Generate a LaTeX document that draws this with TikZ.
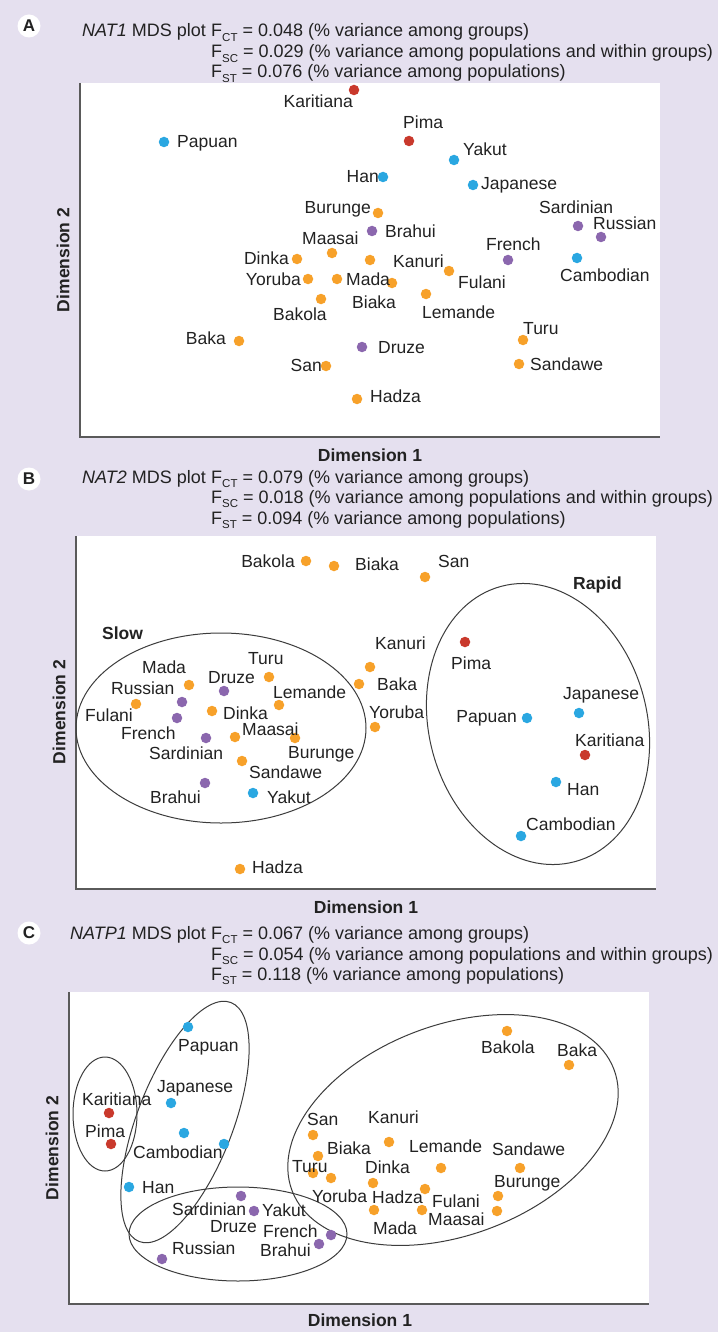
\documentclass[tikz,border=0pt]{standalone}
\usepackage{fontspec}
\setmainfont{Liberation Sans}
\definecolor{bg}{RGB}{229,224,239}
\definecolor{orA}{RGB}{247,161,42}
\definecolor{blA}{RGB}{42,167,225}
\definecolor{rdA}{RGB}{201,57,44}
\definecolor{puA}{RGB}{139,103,174}
\definecolor{txt}{RGB}{34,34,34}
\definecolor{axisc}{RGB}{90,90,90}
\definecolor{ell}{RGB}{60,60,60}
\newcommand{\Fs}[1]{F\raisebox{-4.5pt}{\fontsize{11.5}{11.5}\selectfont #1}}
\tikzset{
 dot/.style={circle,inner sep=0pt,minimum size=10.5pt,fill=#1},
 lab/.style={inner sep=0pt,font=\fontsize{17.5}{20}\selectfont,text=txt},
 blab/.style={inner sep=0pt,font=\bfseries\fontsize{17.5}{20}\selectfont,text=txt},
 hdr/.style={inner sep=0pt,font=\fontsize{18}{20}\selectfont,text=txt,anchor=base west},
 letter/.style={circle,fill=white,inner sep=0pt,minimum size=23pt,font=\bfseries\fontsize{17}{17}\selectfont,text=txt},
 grp/.style={draw=ell,line width=1pt},
 axisline/.style={draw=axisc,line width=1.3pt},
 W/.style={lab,anchor=base west},
 E/.style={lab,anchor=base east},
}
\begin{document}
\begin{tikzpicture}[x=1pt,y=-1pt]
\useasboundingbox (0,0) rectangle (718,1332);
\fill[bg] (0,0) rectangle (718,1332);

% ================= Panel A =================
\node[letter] (pA) at (29,26) {A};
\node[lab,font=\fontsize{18}{20}\selectfont,anchor=base east] (hA0) at (206,37) {\textit{NAT1} MDS plot};
\node[hdr] (hA1) at (211,37) {\Fs{CT} = 0.048 (\% variance among groups)};
\node[hdr] (hA2) at (211,58) {\Fs{SC} = 0.029 (\% variance among populations and within groups)};
\node[hdr] (hA3) at (211,78) {\Fs{ST} = 0.076 (\% variance among populations)};
\fill[white] (80,83) rectangle (660,437);
\draw[axisline] (80,83) -- (80,437) -- (660,437);
\node[blab,rotate=90] (dA2) at (63,260) {Dimension 2};
\node[blab] (dA1) at (370,455) {Dimension 1};

\node[dot=rdA] (a-kar) at (354,90) {};
\node[dot=rdA] (a-pim) at (409,141) {};
\node[dot=blA] (a-pap) at (164,142) {};
\node[dot=blA] (a-yak) at (454,160) {};
\node[dot=blA] (a-han) at (383,177) {};
\node[dot=blA] (a-jap) at (473,185) {};
\node[dot=blA] (a-cam) at (577,258) {};
\node[dot=puA] (a-bra) at (372,231) {};
\node[dot=puA] (a-sar) at (578,226) {};
\node[dot=puA] (a-rus) at (601,237) {};
\node[dot=puA] (a-fre) at (508,260) {};
\node[dot=puA] (a-dru) at (362,347) {};
\node[dot=orA] (a-bur) at (378,213) {};
\node[dot=orA] (a-maa) at (332,253) {};
\node[dot=orA] (a-din) at (297,259) {};
\node[dot=orA] (a-o1) at (370,260) {};
\node[dot=orA] (a-yor) at (308,279) {};
\node[dot=orA] (a-mad) at (337,279) {};
\node[dot=orA] (a-bia) at (392,283) {};
\node[dot=orA] (a-bak) at (321,299) {};
\node[dot=orA] (a-kan) at (449,271) {};
\node[dot=orA] (a-lem) at (426,294) {};
\node[dot=orA] (a-bka) at (239,341) {};
\node[dot=orA] (a-san) at (326,366) {};
\node[dot=orA] (a-had) at (357,399) {};
\node[dot=orA] (a-tur) at (523,340) {};
\node[dot=orA] (a-sdw) at (519,364) {};

\node[E] (a-kar-l) at (353,108) {Karitiana};
\node[W] (a-pim-l) at (403,129) {Pima};
\node[W] (a-pap-l) at (177,148) {Papuan};
\node[W] (a-yak-l) at (463,156) {Yakut};
\node[E] (a-han-l) at (379,183) {Han};
\node[W] (a-jap-l) at (481,190) {Japanese};
\node[E] (a-bur-l) at (371,214) {Burunge};
\node[W] (a-bra-l) at (385,238) {Brahui};
\node[W] (a-sar-l) at (539,214) {Sardinian};
\node[W] (a-rus-l) at (593,230) {Russian};
\node[W] (a-maa-l) at (302,245) {Maasai};
\node[E] (a-din-l) at (289,265) {Dinka};
\node[E] (a-yor-l) at (301,285) {Yoruba};
\node[W] (a-mad-l) at (346,285) {Mada};
\node[W] (a-kan-l) at (393,268) {Kanuri};
\node[W] (a-fre-l) at (486,251) {French};
\node[W] (a-ful-l) at (458,288) {Fulani};
\node[W] (a-cam-l) at (560,281) {Cambodian};
\node[W] (a-bia-l) at (352,308) {Biaka};
\node[W] (a-bak-l) at (273,320) {Bakola};
\node[W] (a-lem-l) at (422,318) {Lemande};
\node[E] (a-bka-l) at (226,344) {Baka};
\node[W] (a-dru-l) at (378,353) {Druze};
\node[W] (a-tur-l) at (523,334) {Turu};
\node[E] (a-san-l) at (322,371) {San};
\node[W] (a-sdw-l) at (530,370) {Sandawe};
\node[W] (a-had-l) at (370,402) {Hadza};

% ================= Panel B =================
\node[letter] (pB) at (29,479) {B};
\node[lab,font=\fontsize{18}{20}\selectfont,anchor=base east] (hB0) at (206,483) {\textit{NAT2} MDS plot};
\node[hdr] (hB1) at (211,483) {\Fs{CT} = 0.079 (\% variance among groups)};
\node[hdr] (hB2) at (211,503) {\Fs{SC} = 0.018 (\% variance among populations and within groups)};
\node[hdr] (hB3) at (211,524) {\Fs{ST} = 0.094 (\% variance among populations)};
\fill[white] (76,536) rectangle (656,889);
\draw[axisline] (76,536) -- (76,889) -- (656,889);
\node[blab,rotate=90] (dB2) at (59,712) {Dimension 2};
\node[blab] (dB1) at (366,907) {Dimension 1};

\draw[grp] (221,728) ellipse [x radius=145pt, y radius=95pt];
\draw[grp,rotate around={15:(538,724)}] (538,724) ellipse [x radius=109pt, y radius=142.5pt];
\node[blab,anchor=base west] (b-slow) at (102,639) {Slow};
\node[blab,anchor=base west] (b-rapid) at (573,589) {Rapid};

\node[dot=orA] (b-bak) at (306,561) {};
\node[dot=orA] (b-bia) at (334,566) {};
\node[dot=orA] (b-san) at (425,577) {};
\node[dot=orA] (b-kan) at (370,667) {};
\node[dot=orA] (b-bka) at (359,684) {};
\node[dot=orA] (b-yor) at (375,727) {};
\node[dot=orA] (b-mad) at (189,685) {};
\node[dot=orA] (b-tur) at (269,677) {};
\node[dot=orA] (b-ful) at (136,704) {};
\node[dot=orA] (b-lem) at (279,705) {};
\node[dot=orA] (b-din) at (212,711) {};
\node[dot=orA] (b-maa) at (235,737) {};
\node[dot=orA] (b-bur) at (295,738) {};
\node[dot=orA] (b-sdw) at (242,761) {};
\node[dot=orA] (b-had) at (240,869) {};
\node[dot=puA] (b-dru) at (224,691) {};
\node[dot=puA] (b-rus) at (182,702) {};
\node[dot=puA] (b-fre) at (177,718) {};
\node[dot=puA] (b-sar) at (206,738) {};
\node[dot=puA] (b-bra) at (205,783) {};
\node[dot=blA] (b-yak) at (253,793) {};
\node[dot=blA] (b-jap) at (579,713) {};
\node[dot=blA] (b-pap) at (527,718) {};
\node[dot=blA] (b-han) at (556,782) {};
\node[dot=blA] (b-cam) at (521,836) {};
\node[dot=rdA] (b-pim) at (465,642) {};
\node[dot=rdA] (b-kar) at (585,755) {};

\node[E] (b-bak-l) at (295,567) {Bakola};
\node[W] (b-bia-l) at (355,570) {Biaka};
\node[W] (b-san-l) at (438,567) {San};
\node[W] (b-kan-l) at (375,649) {Kanuri};
\node[W] (b-bka-l) at (377,690) {Baka};
\node[W] (b-yor-l) at (369,718) {Yoruba};
\node[W] (b-pim-l) at (451,669) {Pima};
\node[W] (b-jap-l) at (563,699) {Japanese};
\node[E] (b-pap-l) at (517,722) {Papuan};
\node[W] (b-kar-l) at (575,746) {Karitiana};
\node[W] (b-han-l) at (567,795) {Han};
\node[W] (b-cam-l) at (526,830) {Cambodian};
\node[W] (b-mad-l) at (142,673) {Mada};
\node[W] (b-dru-l) at (208,683) {Druze};
\node[W] (b-tur-l) at (248,664) {Turu};
\node[W] (b-rus-l) at (111,694) {Russian};
\node[W] (b-lem-l) at (273,698) {Lemande};
\node[W] (b-ful-l) at (85,721) {Fulani};
\node[W] (b-din-l) at (223,719) {Dinka};
\node[W] (b-fre-l) at (121,739) {French};
\node[W] (b-maa-l) at (242,735) {Maasai};
\node[W] (b-bur-l) at (288,758) {Burunge};
\node[W] (b-sar-l) at (149,759) {Sardinian};
\node[W] (b-sdw-l) at (249,778) {Sandawe};
\node[W] (b-bra-l) at (150,803) {Brahui};
\node[W] (b-yak-l) at (267,803) {Yakut};
\node[W] (b-had-l) at (252,873) {Hadza};

% ================= Panel C =================
\node[letter] (pC) at (29,933) {C};
\node[lab,font=\fontsize{18}{20}\selectfont,anchor=base east] (hC0) at (206,939) {\textit{NATP1} MDS plot};
\node[hdr] (hC1) at (211,939) {\Fs{CT} = 0.067 (\% variance among groups)};
\node[hdr] (hC2) at (211,960) {\Fs{SC} = 0.054 (\% variance among populations and within groups)};
\node[hdr] (hC3) at (211,980) {\Fs{ST} = 0.118 (\% variance among populations)};
\fill[white] (69,992) rectangle (649,1304);
\draw[axisline] (69,992) -- (69,1304) -- (649,1304);
\node[blab,rotate=90] (dC2) at (52,1148) {Dimension 2};
\node[blab] (dC1) at (360,1320) {Dimension 1};

\draw[grp] (105,1114) ellipse [x radius=32pt, y radius=57pt];
\draw[grp,rotate around={-21:(185,1122)}] (185,1122) ellipse [x radius=48pt, y radius=128pt];
\draw[grp] (238,1234) ellipse [x radius=109pt, y radius=47pt];
\draw[grp,rotate around={20.6:(453,1130)}] (453,1130) ellipse [x radius=172pt, y radius=105pt];

\node[dot=rdA] (c-kar) at (109,1113) {};
\node[dot=rdA] (c-pim) at (111,1144) {};
\node[dot=blA] (c-pap) at (188,1027) {};
\node[dot=blA] (c-jap) at (171,1103) {};
\node[dot=blA] (c-cam1) at (184,1133) {};
\node[dot=blA] (c-cam2) at (224,1144) {};
\node[dot=blA] (c-han) at (129,1187) {};
\node[dot=puA] (c-sar) at (241,1196) {};
\node[dot=puA] (c-yak) at (254,1211) {};
\node[dot=puA] (c-fre) at (331,1235) {};
\node[dot=puA] (c-bra) at (319,1244) {};
\node[dot=puA] (c-rus) at (162,1259) {};
\node[dot=orA] (c-bak) at (507,1031) {};
\node[dot=orA] (c-bka) at (569,1065) {};
\node[dot=orA] (c-san) at (313,1135) {};
\node[dot=orA] (c-kan) at (389,1142) {};
\node[dot=orA] (c-bia) at (318,1156) {};
\node[dot=orA] (c-lem) at (441,1168) {};
\node[dot=orA] (c-sdw) at (520,1168) {};
\node[dot=orA] (c-tur) at (313,1173) {};
\node[dot=orA] (c-o9) at (331,1178) {};
\node[dot=orA] (c-din) at (373,1183) {};
\node[dot=orA] (c-o11) at (425,1189) {};
\node[dot=orA] (c-bur) at (498,1196) {};
\node[dot=orA] (c-o13) at (374,1210) {};
\node[dot=orA] (c-o14) at (422,1210) {};
\node[dot=orA] (c-o15) at (497,1211) {};

\node[W] (c-pap-l) at (178,1051) {Papuan};
\node[W] (c-jap-l) at (157,1092) {Japanese};
\node[W] (c-kar-l) at (82,1105) {Karitiana};
\node[W] (c-pim-l) at (85,1137) {Pima};
\node[W] (c-cam-l) at (133,1158) {Cambodian};
\node[W] (c-han-l) at (142,1193) {Han};
\node[W] (c-sar-l) at (172,1215) {Sardinian};
\node[W] (c-yak-l) at (262,1216) {Yakut};
\node[W] (c-dru-l) at (210,1232) {Druze};
\node[W] (c-fre-l) at (263,1237) {French};
\node[W] (c-bra-l) at (260,1256) {Brahui};
\node[W] (c-rus-l) at (172,1254) {Russian};
\node[W] (c-bak-l) at (481,1053) {Bakola};
\node[W] (c-bka-l) at (557,1056) {Baka};
\node[W] (c-san-l) at (307,1125) {San};
\node[W] (c-kan-l) at (368,1123) {Kanuri};
\node[W] (c-bia-l) at (327,1154) {Biaka};
\node[W] (c-lem-l) at (409,1152) {Lemande};
\node[W] (c-sdw-l) at (492,1155) {Sandawe};
\node[W] (c-tur-l) at (292,1172) {Turu};
\node[W] (c-din-l) at (365,1173) {Dinka};
\node[W] (c-bur-l) at (494,1187) {Burunge};
\node[W] (c-yor-l) at (312,1202) {Yoruba};
\node[W] (c-had-l) at (372,1203) {Hadza};
\node[W] (c-ful-l) at (432,1207) {Fulani};
\node[W] (c-maa-l) at (428,1225) {Maasai};
\node[W] (c-mad-l) at (373,1234) {Mada};
\end{tikzpicture}
\end{document}
